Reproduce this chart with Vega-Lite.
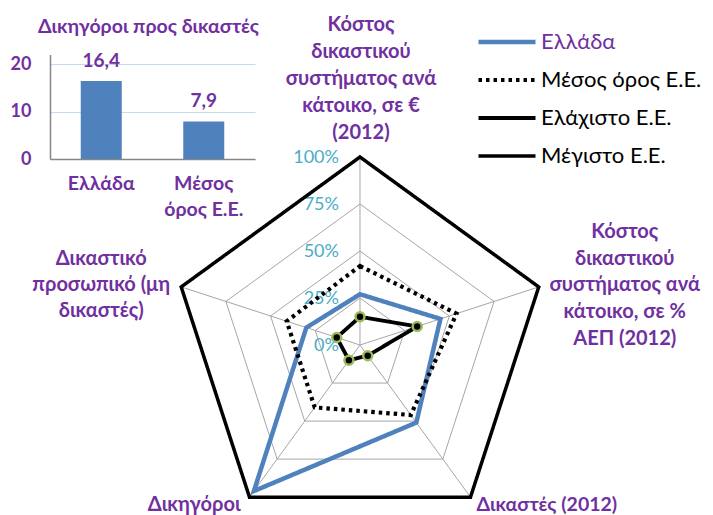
{
  "$schema": "https://vega.github.io/schema/vega-lite/v6.json",
  "width": 713,
  "height": 515,
  "autosize": {"type": "none"},
  "padding": 0,
  "background": "white",
  "config": {
    "view": {"stroke": null},
    "font": "Lato, Open Sans",
    "locale": {"number": {"decimal": ",", "thousands": ".", "grouping": [3], "currency": ["", " €"]}}
  },
  "datasets": {
    "radar": [
      {"series": "Ελλάδα", "k": 0, "v": 27},
      {"series": "Ελλάδα", "k": 1, "v": 45},
      {"series": "Ελλάδα", "k": 2, "v": 51},
      {"series": "Ελλάδα", "k": 3, "v": 96},
      {"series": "Ελλάδα", "k": 4, "v": 30},
      {"series": "Μέσος όρος Ε.Ε.", "k": 0, "v": 42},
      {"series": "Μέσος όρος Ε.Ε.", "k": 1, "v": 54},
      {"series": "Μέσος όρος Ε.Ε.", "k": 2, "v": 46},
      {"series": "Μέσος όρος Ε.Ε.", "k": 3, "v": 41},
      {"series": "Μέσος όρος Ε.Ε.", "k": 4, "v": 41},
      {"series": "Ελάχιστο Ε.Ε.", "k": 0, "v": 15},
      {"series": "Ελάχιστο Ε.Ε.", "k": 1, "v": 32},
      {"series": "Ελάχιστο Ε.Ε.", "k": 2, "v": 7},
      {"series": "Ελάχιστο Ε.Ε.", "k": 3, "v": 10},
      {"series": "Ελάχιστο Ε.Ε.", "k": 4, "v": 13},
      {"series": "Μέγιστο Ε.Ε.", "k": 0, "v": 100},
      {"series": "Μέγιστο Ε.Ε.", "k": 1, "v": 100},
      {"series": "Μέγιστο Ε.Ε.", "k": 2, "v": 100},
      {"series": "Μέγιστο Ε.Ε.", "k": 3, "v": 100},
      {"series": "Μέγιστο Ε.Ε.", "k": 4, "v": 100}
    ],
    "rings": [
      {"level": 25, "k": 0, "v": 25}, {"level": 25, "k": 1, "v": 25}, {"level": 25, "k": 2, "v": 25}, {"level": 25, "k": 3, "v": 25}, {"level": 25, "k": 4, "v": 25},
      {"level": 50, "k": 0, "v": 50}, {"level": 50, "k": 1, "v": 50}, {"level": 50, "k": 2, "v": 50}, {"level": 50, "k": 3, "v": 50}, {"level": 50, "k": 4, "v": 50},
      {"level": 75, "k": 0, "v": 75}, {"level": 75, "k": 1, "v": 75}, {"level": 75, "k": 2, "v": 75}, {"level": 75, "k": 3, "v": 75}, {"level": 75, "k": 4, "v": 75},
      {"level": 100, "k": 0, "v": 100}, {"level": 100, "k": 1, "v": 100}, {"level": 100, "k": 2, "v": 100}, {"level": 100, "k": 3, "v": 100}, {"level": 100, "k": 4, "v": 100}
    ],
    "ticks": [
      {"k": 0, "v": 0, "label": "0%"},
      {"k": 0, "v": 25, "label": "25%"},
      {"k": 0, "v": 50, "label": "50%"},
      {"k": 0, "v": 75, "label": "75%"},
      {"k": 0, "v": 100, "label": "100%"}
    ],
    "labels": [
      {"k": 0, "v": 100, "label": "Κόστος\nδικαστικού\nσυστήματος ανά\nκάτοικο, σε  €\n(2012)"},
      {"k": 1, "v": 100, "label": "Κόστος\nδικαστικού\nσυστήματος ανά\nκάτοικο, σε %\nΑΕΠ (2012)"},
      {"k": 2, "v": 100, "label": "Δικαστές (2012)"},
      {"k": 3, "v": 100, "label": "Δικηγόροι"},
      {"k": 4, "v": 100, "label": "Δικαστικό\nπροσωπικό (μη\nδικαστές)"}
    ],
    "bars": [
      {"cat": "Ελλάδα", "v": 16.4},
      {"cat": "Μέσος όρος Ε.Ε.", "v": 7.9}
    ]
  },
  "layer": [
    {
      "encoding": {
        "x": {"field": "x", "type": "quantitative", "axis": null, "scale": {"domain": [-191.5, 187.8], "nice": false, "zero": false}},
        "y": {"field": "y", "type": "quantitative", "axis": null, "scale": {"domain": [-90.4, 183.5], "nice": false, "zero": false}}
      },
      "layer": [
        {
          "data": {"name": "rings"},
          "transform": [
            {"calculate": "datum.k * 2 * PI / 5", "as": "t"},
            {"calculate": "datum.v * sin(datum.t)", "as": "x"},
            {"calculate": "datum.v * cos(datum.t)", "as": "y"}
          ],
          "mark": {"type": "line", "interpolate": "linear-closed", "color": "#A6A6A6", "strokeWidth": 1},
          "encoding": {"detail": {"field": "level"}, "order": {"field": "k"}}
        },
        {
          "data": {"name": "rings"},
          "transform": [
            {"filter": "datum.level == 100"},
            {"calculate": "datum.k * 2 * PI / 5", "as": "t"},
            {"calculate": "datum.v * sin(datum.t)", "as": "x"},
            {"calculate": "datum.v * cos(datum.t)", "as": "y"}
          ],
          "mark": {"type": "rule", "color": "#A6A6A6", "strokeWidth": 1},
          "encoding": {"x2": {"datum": 0}, "y2": {"datum": 0}}
        },
        {
          "data": {"name": "ticks"},
          "transform": [
            {"calculate": "datum.k * 2 * PI / 5", "as": "t"},
            {"calculate": "datum.v * sin(datum.t)", "as": "x"},
            {"calculate": "datum.v * cos(datum.t)", "as": "y"}
          ],
          "mark": {"type": "text", "align": "right", "baseline": "middle", "dx": -21, "dy": 1, "fontSize": 18, "font": "Lato, Open Sans", "color": "#4BACC6"},
          "encoding": {"text": {"field": "label"}}
        },
        {
          "data": {"name": "radar"},
          "transform": [
            {"calculate": "datum.k * 2 * PI / 5", "as": "t"},
            {"calculate": "datum.v * sin(datum.t)", "as": "x"},
            {"calculate": "datum.v * cos(datum.t)", "as": "y"}
          ],
          "mark": {"type": "line", "interpolate": "linear-closed"},
          "encoding": {
            "order": {"field": "k"},
            "color": {
              "field": "series", "type": "nominal",
              "scale": {"domain": ["Ελλάδα", "Μέσος όρος Ε.Ε.", "Ελάχιστο Ε.Ε.", "Μέγιστο Ε.Ε."], "range": ["#4F81BD", "#000000", "#000000", "#000000"]},
              "legend": {
                "orient": "none", "legendX": 476, "legendY": 31, "title": null,
                "symbolType": "stroke", "symbolSize": 3249, "clipHeight": 22, "rowPadding": 16,
                "labelFontSize": 22, "labelFont": "Lato, Open Sans", "labelOffset": 3, "padding": 0, "labelLimit": 400,
                "labelColor": {"expr": "datum.label == 'Ελλάδα' ? '#7030A0' : '#000000'"}
              }
            },
            "strokeDash": {
              "field": "series", "type": "nominal",
              "scale": {"domain": ["Ελλάδα", "Μέσος όρος Ε.Ε.", "Ελάχιστο Ε.Ε.", "Μέγιστο Ε.Ε."], "range": [[1, 0], [3.5, 4], [1, 0], [1, 0]]}
            },
            "strokeWidth": {
              "field": "series", "type": "nominal",
              "scale": {"domain": ["Ελλάδα", "Μέσος όρος Ε.Ε.", "Ελάχιστο Ε.Ε.", "Μέγιστο Ε.Ε."], "range": [4.5, 3.5, 2, 4.5]}
            }
          }
        },
        {
          "data": {"name": "radar"},
          "transform": [
            {"filter": "datum.series == 'Ελάχιστο Ε.Ε.'"},
            {"calculate": "datum.k * 2 * PI / 5", "as": "t"},
            {"calculate": "datum.v * sin(datum.t)", "as": "x"},
            {"calculate": "datum.v * cos(datum.t)", "as": "y"}
          ],
          "mark": {"type": "point", "filled": true, "fill": "#000000", "stroke": "#9BBB59", "strokeWidth": 2.5, "size": 80, "opacity": 1}
        },
        {
          "data": {"name": "labels"},
          "transform": [
            {"filter": "datum.k == 0"},
            {"calculate": "datum.k * 2 * PI / 5", "as": "t"},
            {"calculate": "datum.v * sin(datum.t)", "as": "x"},
            {"calculate": "datum.v * cos(datum.t)", "as": "y"}
          ],
          "mark": {"type": "text", "align": "center", "baseline": "middle", "dx": 1, "dy": -132, "lineBreak": "\n", "lineHeight": 27, "fontSize": 20, "fontWeight": "bold", "font": "Lato, Open Sans", "color": "#7030A0"},
          "encoding": {"text": {"field": "label"}}
        },
        {
          "data": {"name": "labels"},
          "transform": [
            {"filter": "datum.k == 1"},
            {"calculate": "datum.k * 2 * PI / 5", "as": "t"},
            {"calculate": "datum.v * sin(datum.t)", "as": "x"},
            {"calculate": "datum.v * cos(datum.t)", "as": "y"}
          ],
          "mark": {"type": "text", "align": "center", "baseline": "middle", "dx": 86, "dy": -55, "lineBreak": "\n", "lineHeight": 26.7, "fontSize": 20, "fontWeight": "bold", "font": "Lato, Open Sans", "color": "#7030A0"},
          "encoding": {"text": {"field": "label"}}
        },
        {
          "data": {"name": "labels"},
          "transform": [
            {"filter": "datum.k == 2"},
            {"calculate": "datum.k * 2 * PI / 5", "as": "t"},
            {"calculate": "datum.v * sin(datum.t)", "as": "x"},
            {"calculate": "datum.v * cos(datum.t)", "as": "y"}
          ],
          "mark": {"type": "text", "align": "left", "baseline": "middle", "dx": 6, "dy": 8, "fontSize": 19.5, "fontWeight": "bold", "font": "Lato, Open Sans", "color": "#7030A0"},
          "encoding": {"text": {"field": "label"}}
        },
        {
          "data": {"name": "labels"},
          "transform": [
            {"filter": "datum.k == 3"},
            {"calculate": "datum.k * 2 * PI / 5", "as": "t"},
            {"calculate": "datum.v * sin(datum.t)", "as": "x"},
            {"calculate": "datum.v * cos(datum.t)", "as": "y"}
          ],
          "mark": {"type": "text", "align": "right", "baseline": "middle", "dx": -9, "dy": 8, "fontSize": 20, "fontWeight": "bold", "font": "Lato, Open Sans", "color": "#7030A0"},
          "encoding": {"text": {"field": "label"}}
        },
        {
          "data": {"name": "labels"},
          "transform": [
            {"filter": "datum.k == 4"},
            {"calculate": "datum.k * 2 * PI / 5", "as": "t"},
            {"calculate": "datum.v * sin(datum.t)", "as": "x"},
            {"calculate": "datum.v * cos(datum.t)", "as": "y"}
          ],
          "mark": {"type": "text", "align": "center", "baseline": "middle", "dx": -80, "dy": -28, "lineBreak": "\n", "lineHeight": 26, "fontSize": 20, "fontWeight": "bold", "font": "Lato, Open Sans", "color": "#7030A0"},
          "encoding": {"text": {"field": "label"}}
        }
      ]
    },
    {
      "data": {"name": "bars"},
      "encoding": {
        "x": {
          "field": "cat", "type": "nominal", "sort": null,
          "scale": {"domain": ["Ελλάδα", "Μέσος όρος Ε.Ε."], "range": [50, 255], "paddingInner": 0.6, "paddingOuter": 0.3},
          "axis": {
            "orient": "bottom", "offset": -356, "title": null, "ticks": false, "labelAngle": 0,
            "labelPadding": 15, "labelColor": "#7030A0", "labelFont": "Lato, Open Sans", "labelFontWeight": "bold", "labelFontSize": 19.5,
            "labelLineHeight": 26, "domainColor": "#868686", "domainWidth": 1.5,
            "labelExpr": "datum.value == 'Μέσος όρος Ε.Ε.' ? ['Μέσος', 'όρος Ε.Ε.'] : datum.label"
          }
        },
        "y": {
          "field": "v", "type": "quantitative",
          "scale": {"domain": [0, 22], "range": [159, 54.5], "nice": false, "zero": true},
          "axis": {
            "orient": "left", "offset": -50, "values": [0, 10, 20], "ticks": false,
            "labelPadding": 19, "labelColor": "#7030A0", "labelFont": "Lato, Open Sans", "labelFontWeight": "bold", "labelFontSize": 18,
            "grid": true, "gridColor": "#C5D9F1", "domainColor": "#868686", "domainWidth": 1.5,
            "title": "Δικηγόροι προς δικαστές", "titleAngle": 0, "titleX": 98, "titleY": 26, "titleAlign": "center", "titleBaseline": "middle",
            "titleColor": "#7030A0", "titleFont": "Lato, Open Sans", "titleFontWeight": "bold", "titleFontSize": 19.5
          }
        }
      },
      "layer": [
        {"mark": {"type": "bar", "color": "#4F81BD"}},
        {
          "mark": {"type": "text", "baseline": "middle", "dy": -20, "fontSize": 19, "fontWeight": "bold", "font": "Lato, Open Sans", "color": "#7030A0"},
          "encoding": {"text": {"field": "v", "type": "quantitative", "format": ".1f"}}
        }
      ]
    }
  ],
  "resolve": {"scale": {"x": "independent", "y": "independent"}, "axis": {"x": "independent", "y": "independent"}}
}
